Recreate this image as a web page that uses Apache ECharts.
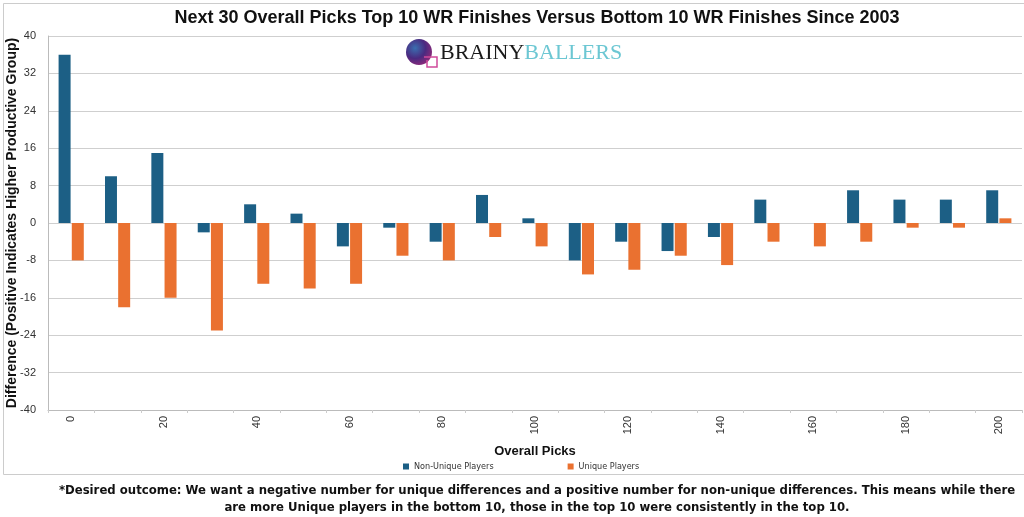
<!DOCTYPE html>
<html>
<head>
<meta charset="utf-8">
<script src="https://cdn.jsdelivr.net/npm/echarts@6/dist/echarts.min.js"></script>
<style>
html,body{margin:0;padding:0;background:#fff;}
#chart{width:1024px;height:517px;}
</style>
</head>
<body>
<div id="chart"></div>
<script>
const categories = ['0','10','20','30','40','50','60','70','80','90','100','110','120','130','140','150','160','170','180','190','200'];
const nonUnique = [36, 10, 15, -2, 4, 2, -5, -1, -4, 6, 1, -8, -4, -6, -3, 5, 0, 7, 5, 5, 7];
const unique = [-8, -18, -16, -23, -13, -14, -13, -7, -8, -3, -5, -11, -10, -7, -9, -4, -5, -4, -1, -1, 1];
const yTicks = {min: -40, max: 40, interval: 8};

const chart = echarts.init(document.getElementById('chart'));
const narrow = '"Liberation Sans Narrow", "DejaVu Sans Condensed", "Liberation Sans", sans-serif';
const sans = '"Liberation Sans", Arial, sans-serif';
chart.setOption({
  backgroundColor: '#fff',
  animation: false,
  title: {
    text: 'Next 30 Overall Picks Top 10 WR Finishes Versus Bottom 10 WR Finishes Since 2003',
    left: 532, top: 4, textAlign: 'center',
    textStyle: {fontFamily: sans, fontWeight: 'bold', fontSize: 18, color: '#111'}
  },
  legend: {
    left: 398, top: 457,
    itemWidth: 6, itemHeight: 6, itemGap: 74,
    icon: 'rect',
    textStyle: {fontFamily: narrow, fontSize: 9, color: '#333'},
    data: ['Non-Unique Players', 'Unique Players']
  },
  grid: {left: 48, right: 2, top: 36, bottom: 107, containLabel: false, outerBoundsMode: 'none'},
  xAxis: {
    type: 'category',
    data: categories,
    name: 'Overall Picks',
    nameLocation: 'middle',
    nameGap: 35,
    nameTextStyle: {fontFamily: sans, fontWeight: 'bold', fontSize: 13, color: '#111'},
    axisLine: {onZero: false, lineStyle: {color: '#bbb'}},
    axisTick: {show: true, interval: 0, length: 3, lineStyle: {color: '#ccc'}},
    axisLabel: {interval: 1, rotate: 90, fontSize: 11, color: '#333', margin: 6, fontFamily: sans},
    splitLine: {show: false}
  },
  yAxis: {
    type: 'value',
    min: yTicks.min, max: yTicks.max, interval: yTicks.interval,
    name: 'Difference (Positive Indicates Higher Productive Group)',
    nameLocation: 'middle',
    nameGap: 29,
    nameMoveOverlap: false,
    nameTextStyle: {fontFamily: sans, fontWeight: 'bold', fontSize: 14, color: '#111'},
    axisLine: {show: true, lineStyle: {color: '#bbb'}},
    axisTick: {show: false},
    axisLabel: {fontSize: 11, color: '#333', margin: 12, fontFamily: sans},
    splitLine: {show: true, lineStyle: {color: '#cfcfcf', width: 1}}
  },
  series: [
    {name: 'Non-Unique Players', type: 'bar', data: nonUnique, barWidth: 12, barGap: '10%',
     itemStyle: {color: '#1c5f85'}},
    {name: 'Unique Players', type: 'bar', data: unique, barWidth: 12, barGap: '10%',
     itemStyle: {color: '#ea7130'}}
  ],
  graphic: [
    {type: 'rect', left: 1, top: 1, z: -10, silent: true,
     shape: {width: 1021, height: 471}, style: {fill: 'none', stroke: '#ccc', lineWidth: 1}},
    {type: 'circle', z: 10, shape: {cx: 419, cy: 52, r: 13},
     style: {fill: new echarts.graphic.RadialGradient(0.35, 0.35, 0.8, [
       {offset: 0, color: '#3a6fb0'}, {offset: 0.5, color: '#4a2a80'}, {offset: 1, color: '#a02a78'}])}},
    {type: 'polyline', z: 11, shape: {points: [[424, 57], [437, 57], [437, 67], [427, 67], [427, 60]]},
     style: {fill: 'none', stroke: '#d04a9a', lineWidth: 1.5}},
    {type: 'text', z: 10, left: 440, top: 42,
     style: {text: '{a|BRAINY}{b|BALLERS}',
       rich: {a: {fontFamily: '"Liberation Serif", "DejaVu Serif", serif', fontSize: 22, fill: '#1a1a1a'},
              b: {fontFamily: '"Liberation Serif", "DejaVu Serif", serif', fontSize: 22, fill: '#6cc7d3'}}}},
    {type: 'text', z: 10, x: 537, y: 482,
     style: {text: '*Desired outcome: We want a negative number for unique differences and a positive number for non-unique differences. This means while there\nare more Unique players in the bottom 10, those in the top 10 were consistently in the top 10.',
       font: 'bold 13px ' + narrow, fill: '#111', align: 'center', verticalAlign: 'top', lineHeight: 17}}
  ]
});
</script>
</body>
</html>
